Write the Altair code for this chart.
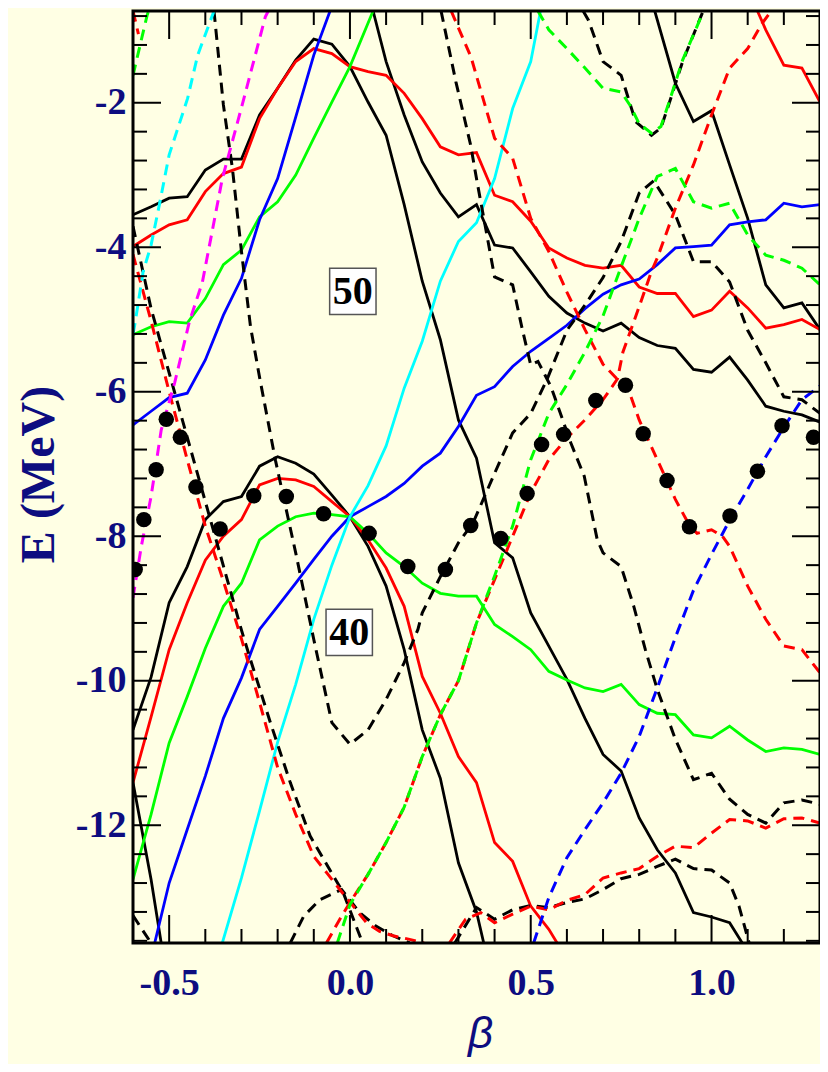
import altair as alt
import pandas as pd

# ---------------- data (beta, E in MeV) ----------------
grid = [round(-0.6 + 0.05 * i, 3) for i in range(39)]

# solid curves
blk1_b = [-0.6,-0.55,-0.5,-0.45,-0.4,-0.35,-0.3,-0.25,-0.2,-0.15,-0.1,-0.05,0.0,0.05,0.1,0.15,0.2,0.25,0.3,0.35,0.4,0.45,0.5,0.55,0.6,0.65,0.7,0.75,0.8,0.85,0.9,0.95,1.0,1.05,1.085]
blk1_e = [-3.55,-3.44,-3.32,-3.30,-2.93,-2.78,-2.78,-2.17,-1.80,-1.41,-1.12,-1.19,-1.50,-1.99,-2.45,-3.41,-4.47,-5.28,-6.39,-6.92,-8.09,-8.30,-9.06,-9.52,-9.98,-10.52,-11.02,-11.25,-11.90,-12.34,-12.66,-13.21,-13.27,-13.35,-13.63]
blk2_b = [0.064,0.1,0.15,0.2,0.25,0.3,0.35,0.4,0.45,0.5,0.55,0.6,0.65,0.7,0.75,0.8,0.85,0.9,0.95,1.0,1.05,1.1,1.15,1.2,1.25,1.3]
blk2_e = [-0.73,-1.43,-2.17,-2.82,-3.25,-3.58,-3.41,-3.97,-4.01,-4.34,-4.68,-4.91,-5.05,-5.16,-5.05,-5.25,-5.36,-5.40,-5.69,-5.73,-5.52,-5.84,-6.20,-6.27,-6.32,-6.42]
blk3_b = [0.843,0.9,0.95,1.0,1.05,1.1,1.15,1.2,1.25,1.3]
blk3_e = [-0.73,-1.73,-2.26,-2.11,-2.86,-3.60,-4.52,-4.84,-4.77,-5.14]
blk4_b = [-0.6,-0.55,-0.5,-0.45,-0.4,-0.35,-0.3,-0.25,-0.2,-0.15,-0.1,-0.05,0.0,0.05,0.1,0.15,0.2,0.25,0.3,0.35,0.37]
blk4_e = [-10.68,-9.95,-8.92,-8.42,-7.77,-7.52,-7.45,-7.03,-6.90,-6.99,-7.14,-7.43,-7.73,-8.14,-8.69,-9.57,-10.68,-11.35,-12.52,-13.20,-13.63]
blk5_b = [-0.6,-0.55,-0.522]
blk5_e = [-11.41,-12.75,-13.63]
red1_b = grid
red1_e = [-3.99,-3.83,-3.69,-3.62,-3.23,-2.98,-2.89,-2.22,-1.80,-1.43,-1.25,-1.32,-1.50,-1.57,-1.62,-1.87,-2.22,-2.61,-2.72,-2.69,-3.28,-3.37,-3.64,-4.01,-4.15,-4.25,-4.29,-4.25,-4.55,-4.64,-4.64,-4.96,-4.87,-4.61,-4.84,-5.12,-5.07,-5.00,-5.14]
red2_b = [-0.6,-0.55,-0.5,-0.45,-0.4,-0.35,-0.3,-0.25,-0.2,-0.15,-0.1,-0.05,0.0,0.05,0.1,0.15,0.2,0.25,0.3,0.35,0.4,0.45,0.5,0.55,0.573]
red2_e = [-11.41,-10.5,-9.57,-8.92,-8.33,-8.0,-7.77,-7.29,-7.20,-7.22,-7.31,-7.52,-7.73,-8.05,-8.44,-8.97,-9.94,-10.45,-11.05,-11.41,-12.24,-12.50,-13.12,-13.44,-13.63]
red3_b = [1.127,1.15,1.2,1.25,1.3]
red3_e = [-0.73,-0.99,-1.48,-1.52,-1.99]
grn1_b = [-0.6,-0.55,-0.5,-0.45,-0.4,-0.35,-0.3,-0.25,-0.2,-0.15,-0.1,-0.05,0.0,0.064]
grn1_e = [-5.21,-5.10,-5.03,-5.05,-4.71,-4.24,-4.04,-3.58,-3.37,-3.00,-2.49,-1.99,-1.50,-0.73]
grn2_b = grid
grn2_e = [-12.75,-11.85,-10.86,-10.22,-9.55,-8.97,-8.65,-8.05,-7.86,-7.73,-7.68,-7.70,-7.73,-7.96,-8.23,-8.42,-8.65,-8.79,-8.83,-8.83,-9.22,-9.39,-9.57,-9.87,-9.99,-10.10,-10.15,-10.05,-10.33,-10.45,-10.47,-10.75,-10.79,-10.63,-10.82,-10.98,-10.93,-10.95,-11.02]
blu1_b = [-0.6,-0.55,-0.5,-0.45,-0.4,-0.35,-0.3,-0.25,-0.2,-0.15,-0.1,-0.055]
blu1_e = [-6.46,-6.27,-6.08,-6.02,-5.56,-4.94,-4.43,-3.62,-3.05,-2.20,-1.34,-0.73]
blu2_b = [-0.54] + grid[2:]
blu2_e = [-13.63,-12.80,-12.06,-11.32,-10.52,-9.96,-9.29,-8.97,-8.65,-8.32,-8.0,-7.73,-7.59,-7.45,-7.27,-7.03,-6.85,-6.48,-6.05,-5.93,-5.65,-5.44,-5.26,-5.08,-4.85,-4.65,-4.52,-4.44,-4.24,-4.01,-3.99,-3.97,-3.69,-3.65,-3.62,-3.39,-3.44,-3.41]
cyn1_b = [-0.353,-0.3,-0.25,-0.2,-0.15,-0.1,-0.05,0.0,0.05,0.1,0.15,0.2,0.25,0.3,0.35,0.4,0.45,0.5,0.527]
cyn1_e = [-13.63,-12.73,-11.80,-10.85,-10.05,-9.15,-8.40,-7.73,-7.30,-6.75,-5.95,-5.30,-4.47,-3.92,-3.66,-3.05,-2.08,-1.43,-0.73]

# dashed curves
bkd1_b = [-0.376,-0.35,-0.325,-0.3,-0.275,-0.25,-0.206,-0.15,-0.1,-0.05,0.0,0.05,0.1,0.15,0.188,0.2,0.25,0.3,0.34,0.4,0.45,0.5,0.545,0.6,0.65,0.7,0.75,0.8,0.84,0.9,0.95,1.0,1.05,1.1,1.15,1.2,1.25,1.3]
bkd1_e = [-0.73,-2.03,-2.91,-4.06,-5.10,-5.80,-6.95,-8.23,-9.43,-10.58,-10.88,-10.68,-10.26,-9.75,-9.29,-9.06,-8.56,-8.09,-7.82,-7.13,-6.57,-6.30,-5.83,-5.15,-4.80,-4.42,-3.92,-3.25,-3.08,-3.55,-4.20,-4.20,-4.48,-5.15,-5.60,-6.07,-6.11,-6.30]
bkd3_b = [0.252,0.293,0.334,0.35,0.4,0.45,0.476,0.5,0.52,0.556,0.611,0.648,0.684,0.7,0.75,0.785,0.817,0.85,0.9,0.95,1.0,1.05,1.1,1.15,1.2,1.25,1.3]
bkd3_e = [-0.73,-1.71,-2.59,-3.05,-4.41,-4.52,-5.12,-5.63,-5.58,-5.93,-6.71,-7.17,-8.05,-8.23,-8.42,-8.97,-9.57,-10.12,-10.81,-11.37,-11.28,-11.64,-11.85,-11.97,-11.69,-11.65,-11.71]
bkd4_b = [0.645,0.66,0.7,0.75,0.79,0.834,0.86,0.884,0.92,0.976]
bkd4_e = [-0.73,-0.86,-1.43,-1.62,-2.26,-2.45,-2.35,-1.99,-1.43,-0.74]
bkd5_b = [-0.6,-0.55,-0.5,-0.45,-0.4,-0.35,-0.3,-0.275,-0.22,-0.165,-0.11,-0.046,-0.018,0.035]
bkd5_e = [-3.71,-4.85,-5.74,-6.63,-7.52,-8.41,-9.30,-9.71,-10.58,-11.41,-12.15,-12.70,-12.94,-13.63]
bkd6_b = [-0.165,-0.128,-0.083,-0.023,0.027,0.073,0.119,0.165]
bkd6_e = [-13.63,-13.26,-13.03,-12.89,-13.21,-13.40,-13.53,-13.63]
bkd7_b = [-0.6,-0.55]
bkd7_e = [-13.25,-13.63]
bkd8_b = [0.29,0.35,0.4,0.45,0.5,0.55,0.6,0.65,0.7,0.75,0.8,0.85,0.9,0.95,1.0,1.05,1.076,1.104]
bkd8_e = [-13.63,-13.14,-13.30,-13.17,-13.11,-13.14,-13.07,-13.02,-12.89,-12.74,-12.68,-12.57,-12.47,-12.60,-12.62,-12.80,-13.12,-13.63]
rdd0_b = [-0.6,-0.585]
rdd0_e = [-0.73,-1.05]
rdd1_b = [0.28,0.335,0.4,0.45,0.5,0.55,0.6,0.65,0.7,0.74,0.765,0.8,0.85,0.9,0.94,0.96,1.0,1.03,1.05,1.1,1.15,1.2,1.25,1.3]
rdd1_e = [-0.73,-1.37,-2.49,-2.77,-3.60,-4.06,-4.62,-5.14,-5.62,-5.83,-5.90,-6.39,-6.94,-7.49,-7.86,-7.96,-7.91,-8.0,-8.14,-8.69,-9.15,-9.52,-9.57,-9.89]
rdd2_b = [-0.065,-0.028,0.0,0.05,0.1,0.15,0.2,0.25,0.3,0.35,0.4,0.45,0.5,0.55,0.6,0.65,0.7,0.74,0.755,0.8,0.835,0.85,0.9,0.95,1.0,1.05,1.1,1.14,1.165]
rdd2_e = [-13.63,-13.30,-13.07,-12.68,-12.24,-11.75,-11.05,-10.47,-10.0,-9.2,-8.6,-8.0,-7.4,-6.94,-6.64,-6.39,-6.11,-5.82,-5.45,-4.82,-4.32,-4.15,-3.46,-2.86,-2.17,-1.52,-1.25,-0.90,-0.73]
rdd3_b = [-0.6,-0.55,-0.5,-0.45,-0.4,-0.35,-0.3,-0.25,-0.2,-0.15,-0.1,-0.064,-0.028,0.009,0.046,0.082,0.119,0.165,0.205]
rdd3_e = [-4.10,-5.02,-6.0,-6.94,-7.86,-8.62,-9.42,-10.3,-11.2,-11.85,-12.43,-12.66,-12.89,-13.12,-13.35,-13.47,-13.53,-13.58,-13.63]
rdd4_b = [0.275,0.32,0.362,0.4,0.45,0.5,0.55,0.6,0.65,0.7,0.75,0.8,0.85,0.9,0.95,1.0,1.05,1.1,1.15,1.2,1.25,1.3]
rdd4_e = [-13.63,-13.30,-13.21,-13.35,-13.23,-13.12,-13.17,-13.04,-12.96,-12.73,-12.66,-12.60,-12.43,-12.29,-12.31,-12.11,-11.92,-11.94,-12.04,-11.91,-11.90,-11.97]
gnd0_b = [-0.6,-0.561,-0.557]
gnd0_e = [-1.62,-0.79,-0.73]
gnd1_b = [0.52,0.55,0.6,0.65,0.7,0.75,0.774,0.8,0.834,0.86,0.884,0.92,0.978]
gnd1_e = [-0.73,-0.99,-1.25,-1.52,-1.80,-1.85,-2.03,-2.29,-2.42,-2.33,-1.97,-1.41,-0.73]
gnd2_b = [-0.035,0.0,0.05,0.1,0.15,0.2,0.25,0.3,0.35,0.4,0.45,0.5,0.55,0.6,0.65,0.7,0.75,0.8,0.85,0.9,0.95,1.0,1.05,1.1,1.15,1.2,1.25,1.3]
gnd2_e = [-13.63,-13.1,-12.68,-12.24,-11.75,-11.05,-10.47,-10.0,-9.2,-8.55,-7.86,-6.94,-6.30,-5.9,-5.45,-4.95,-4.27,-3.60,-3.02,-2.91,-3.37,-3.46,-3.39,-3.83,-4.11,-4.18,-4.29,-4.52]
bld_b = [0.508,0.55,0.6,0.65,0.7,0.75,0.8,0.85,0.9,0.95,1.0,1.05,1.1,1.15,1.2,1.25,1.3]
bld_e = [-13.63,-13.0,-12.45,-12.06,-11.69,-11.28,-10.77,-10.1,-9.4,-8.75,-8.25,-7.78,-7.35,-6.9,-6.49,-6.11,-5.92]
cyd_b = [-0.6,-0.595,-0.572,-0.55,-0.527,-0.5,-0.449,-0.421,-0.376]
cyd_e = [-5.2,-5.07,-4.34,-3.97,-3.41,-2.72,-1.94,-1.34,-0.73]
mgd_b = [-0.6,-0.577,-0.55,-0.522,-0.485,-0.444,-0.408,-0.353,-0.298,-0.234,-0.226]
mgd_e = [-8.85,-8.14,-7.45,-6.53,-5.88,-5.03,-4.48,-3.05,-2.03,-0.81,-0.73]

# experimental points
dot_b = [-0.594,-0.570,-0.536,-0.508,-0.469,-0.426,-0.359,-0.266,-0.176,-0.073,0.053,0.160,0.264,0.334,
         0.417,0.490,0.530,0.591,0.680,0.762,0.811,0.877,0.939,1.051,1.127,1.195,1.282]
dot_e = [-8.46,-7.77,-7.08,-6.38,-6.63,-7.32,-7.90,-7.44,-7.45,-7.69,-7.96,-8.42,-8.46,-7.85,
         -8.03,-7.41,-6.73,-6.59,-6.12,-5.91,-6.58,-7.23,-7.87,-7.72,-7.10,-6.47,-6.63]

# shell-gap labels
lab_text = ["50", "40"]
lab_b = [0.008, -0.002]
lab_e = [-4.61, -9.33]

# axis ticks
x_major = [-0.5, 0.0, 0.5, 1.0]
x_minor = [-0.4, -0.3, -0.2, -0.1, 0.1, 0.2, 0.3, 0.4, 0.6, 0.7, 0.8, 0.9, 1.1, 1.2]
y_major = [-12, -10, -8, -6, -4, -2]
y_minor = [-13.6, -13.2, -12.8, -12.4, -11.6, -11.2, -10.8, -10.4, -9.6, -9.2, -8.8, -8.4,
           -7.6, -7.2, -6.8, -6.4, -5.6, -5.2, -4.8, -4.4, -3.6, -3.2, -2.8, -2.4, -1.6, -1.2, -0.8]

# ---------------- build tables ----------------
solid = [("blk1", blk1_b, blk1_e, "#000000"), ("blk2", blk2_b, blk2_e, "#000000"),
         ("blk3", blk3_b, blk3_e, "#000000"), ("blk4", blk4_b, blk4_e, "#000000"),
         ("blk5", blk5_b, blk5_e, "#000000"), ("red1", red1_b, red1_e, "#FF0000"),
         ("red2", red2_b, red2_e, "#FF0000"), ("red3", red3_b, red3_e, "#FF0000"),
         ("grn1", grn1_b, grn1_e, "#00FF00"), ("grn2", grn2_b, grn2_e, "#00FF00"),
         ("blu1", blu1_b, blu1_e, "#0000FF"), ("blu2", blu2_b, blu2_e, "#0000FF"),
         ("cyn1", cyn1_b, cyn1_e, "#00FFFF")]
dashed = [("bkd1", bkd1_b, bkd1_e, "#000000"), ("bkd3", bkd3_b, bkd3_e, "#000000"),
          ("bkd4", bkd4_b, bkd4_e, "#000000"), ("bkd5", bkd5_b, bkd5_e, "#000000"),
          ("bkd6", bkd6_b, bkd6_e, "#000000"), ("bkd7", bkd7_b, bkd7_e, "#000000"),
          ("bkd8", bkd8_b, bkd8_e, "#000000"), ("rdd0", rdd0_b, rdd0_e, "#FF0000"),
          ("rdd1", rdd1_b, rdd1_e, "#FF0000"), ("rdd2", rdd2_b, rdd2_e, "#FF0000"),
          ("rdd3", rdd3_b, rdd3_e, "#FF0000"), ("rdd4", rdd4_b, rdd4_e, "#FF0000"),
          ("gnd0", gnd0_b, gnd0_e, "#00FF00"), ("gnd1", gnd1_b, gnd1_e, "#00FF00"),
          ("gnd2", gnd2_b, gnd2_e, "#00FF00"), ("bld", bld_b, bld_e, "#0000FF"),
          ("cyd", cyd_b, cyd_e, "#00FFFF"), ("mgd", mgd_b, mgd_e, "#FF00FF")]


def table(curves):
    rows = []
    for cid, bs, es, col in curves:
        for k, (b, e) in enumerate(zip(bs, es)):
            rows.append({"id": cid, "beta": b, "E": e, "col": col, "k": k})
    return pd.DataFrame(rows)


df_solid = table(solid)
df_dash = table(dashed)
df_dots = pd.DataFrame({"beta": dot_b, "E": dot_e})
df_lab = pd.DataFrame({"t": lab_text, "beta": lab_b, "E": lab_e})

# ---------------- chart ----------------
W, H = 687, 932
NAVY = "#0D0D80"
BG = "#FFFFE4"
xs = alt.Scale(domain=[-0.6, 1.3], nice=False, zero=False)
ys = alt.Scale(domain=[-13.63, -0.73], nice=False, zero=False)

x_axis = alt.Axis(values=x_major, format=".1f", labelExpr="replace(datum.label, '\u2212', '-')",
                  ticks=False, domain=False, grid=False, labelFont="Liberation Serif",
                  labelFontWeight="bold", labelFontSize=38, labelColor=NAVY, labelPadding=21,
                  labelFlush=False, title="\u03b2", titleFont="Liberation Sans", titleFontStyle="italic",
                  titleFontWeight="normal", titleFontSize=44, titleColor=NAVY, titleX=347,
                  titleY=104, titleBaseline="alphabetic", titleAlign="center")
y_axis = alt.Axis(values=y_major, format="d", labelExpr="replace(datum.label, '\u2212', '-')",
                  ticks=False, domain=False, grid=False, labelFont="Liberation Serif",
                  labelFontWeight="bold", labelFontSize=38, labelColor=NAVY, labelPadding=7,
                  labelFlush=False, title="E (MeV)", titleFont="Liberation Serif",
                  titleFontWeight="bold", titleFontSize=48, titleColor=NAVY, titleAngle=270,
                  titleX=-80, titleY=463, titleBaseline="alphabetic", titleAlign="center")


def X(f):
    return alt.X(f, scale=xs, axis=x_axis)


def Y(f):
    return alt.Y(f, scale=ys, axis=y_axis)


lines_solid = alt.Chart(df_solid).mark_line(strokeWidth=2.8, clip=True).encode(
    x=X("beta:Q"), y=Y("E:Q"),
    color=alt.Color("col:N", scale=None), detail="id:N", order="k:Q",
)
lines_dash = alt.Chart(df_dash).mark_line(strokeWidth=3, strokeDash=[11, 7], clip=True).encode(
    x=X("beta:Q"), y=Y("E:Q"),
    color=alt.Color("col:N", scale=None), detail="id:N", order="k:Q",
)
dots = alt.Chart(df_dots).mark_circle(size=240, color="black", opacity=1, clip=True).encode(
    x=X("beta:Q"), y=Y("E:Q"),
)
boxes = alt.Chart(df_lab).mark_square(size=2150, fill="white", stroke="#555555",
                                      strokeWidth=1.5, opacity=1).encode(
    x=X("beta:Q"), y=Y("E:Q"),
)
texts = alt.Chart(df_lab).mark_text(font="Liberation Serif", fontWeight="bold", fontSize=40,
                                    color="black", baseline="middle", align="center", dy=1).encode(
    x=X("beta:Q"), y=Y("E:Q"), text="t:N",
)


def xticks(vals, length):
    d = pd.DataFrame({"beta": vals})
    base = alt.Chart(d).mark_rule(color="black", strokeWidth=2)
    bot = base.encode(x=X("beta:Q"), y=alt.value(H), y2=alt.value(H - length))
    top = base.encode(x=X("beta:Q"), y=alt.value(0), y2=alt.value(length))
    return [bot, top]


def yticks(vals, length):
    d = pd.DataFrame({"E": vals})
    base = alt.Chart(d).mark_rule(color="black", strokeWidth=2)
    left = base.encode(y=Y("E:Q"), x=alt.value(0), x2=alt.value(length))
    right = base.encode(y=Y("E:Q"), x=alt.value(W), x2=alt.value(W - length))
    return [left, right]


frame = alt.Chart(pd.DataFrame({"a": [0]})).mark_rect(fill=None, stroke="black", strokeWidth=3).encode(
    x=alt.value(0), x2=alt.value(W), y=alt.value(0), y2=alt.value(H))

layers = [lines_solid, lines_dash] + xticks(x_major, 28) + xticks(x_minor, 14) \
    + yticks(y_major, 28) + yticks(y_minor, 14) + [dots, boxes, texts, frame]

chart = alt.layer(*layers).properties(
    width=W, height=H,
    autosize=alt.AutoSizeParams(type="none"),
    padding={"left": 125, "top": 3, "right": 0, "bottom": 121},
    background=BG,
).configure_view(stroke=None, fill=BG)

chart.save("out.html", embed_options={"renderer": "svg", "actions": False})
